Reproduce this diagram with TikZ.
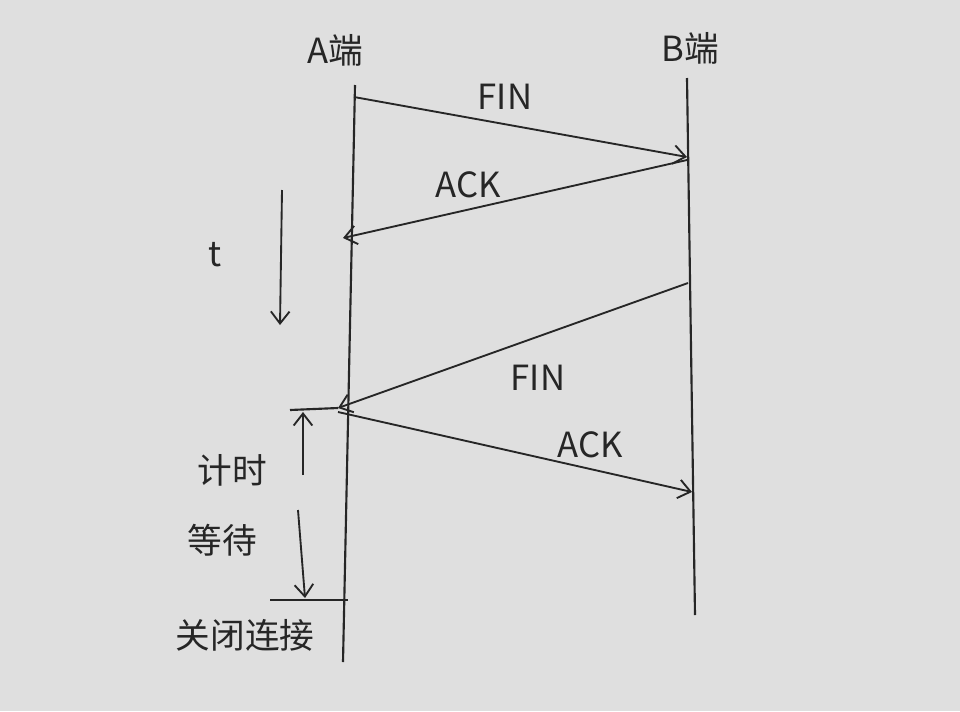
\documentclass[tikz,border=0pt]{standalone}
\usepackage{fontspec}
\newfontfamily\cjk{Noto Sans CJK SC}
\usetikzlibrary{arrows.meta}
\tikzset{
  life/.style={line width=1.6pt,black!85},
  msg/.style={line width=1.4pt,black!85,-{Straight Barb[length=9pt,width=14pt]}},
  lbl/.style={font=\cjk\fontsize{26}{28}\selectfont,black!85},
}
\begin{document}
\begin{tikzpicture}[x=0.75pt,y=-0.75pt]
\fill[gray!25] (0,0) rectangle (960,711);
\useasboundingbox (0,0) rectangle (960,711);
% lifelines
\coordinate (a0) at (355,85);
\coordinate (a1) at (343,662);
\coordinate (b0) at (687,78);
\coordinate (b1) at (695,615);
\draw[life] (a0) -- (a1);
\draw[life] (b0) -- (b1);
\node[lbl] (aname) at (335,50) {A端};
\node[lbl] (bname) at (690,48) {B端};
% messages
\coordinate (m1s) at (354,97);
\coordinate (m1e) at (687,157);
\coordinate (m2s) at (687,160);
\coordinate (m2e) at (343,238);
\coordinate (m3s) at (688,283);
\coordinate (m3e) at (338,408);
\coordinate (m4s) at (338,412);
\coordinate (m4e) at (692,492);
\draw[msg] (m1s) -- (m1e);
\draw[msg] (m2s) -- (m2e);
\draw[msg] (m3s) -- (m3e);
\draw[msg] (m4s) -- (m4e);
\node[lbl] (fin1) at (505,97) {FIN};
\node[lbl] (ack1) at (468,185) {ACK};
\node[lbl] (fin2) at (538,378) {FIN};
\node[lbl] (ack2) at (590,445) {ACK};
% time axis
\node[lbl] (tl) at (215,255) {t};
\coordinate (t0) at (282,190);
\coordinate (t1) at (280,325);
\draw[msg] (t0) -- (t1);
% timed wait
\coordinate (w0) at (290,410);
\coordinate (w1) at (300,600);
\coordinate (w2) at (270,600);
\coordinate (w3) at (348,600);
\draw[life] (w0) -- (m3e);
\draw[life] (w2) -- (w3);
\coordinate (u0) at (303,475);
\coordinate (u1) at (303,412);
\draw[msg] (u0) -- (u1);
\coordinate (d0) at (298,510);
\coordinate (d1) at (305,598);
\draw[msg] (d0) -- (d1);
\node[lbl] (wait1) at (232,470) {计时};
\node[lbl] (wait2) at (222,540) {等待};
\node[lbl] (close) at (245,635) {关闭连接};
\end{tikzpicture}
\end{document}
